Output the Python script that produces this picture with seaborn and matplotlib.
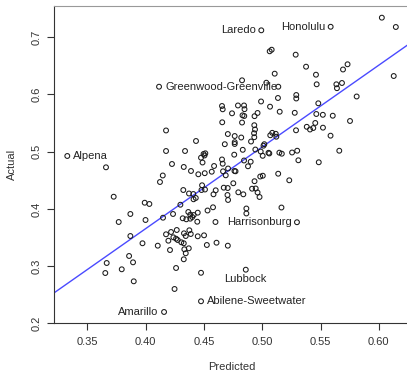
import matplotlib
matplotlib.use("Agg")
import matplotlib.pyplot as plt
import seaborn as sns
import numpy as np
import pandas as pd

predicted = [
    0.3328, 0.3660, 0.4115, 0.4175, 0.4175, 0.4338, 0.4432, 0.4226, 0.4327, 0.4389,
    0.4452, 0.4147, 0.4123, 0.4323, 0.4372, 0.4409, 0.4430, 0.3726, 0.3992, 0.4032,
    0.4298, 0.3869, 0.3769, 0.3999, 0.4149, 0.4235, 0.4366, 0.4383, 0.4412, 0.4447,
    0.4318, 0.4349, 0.4383, 0.4400, 0.4443, 0.4267, 0.4175, 0.4218, 0.4238, 0.4195,
    0.4261, 0.4275, 0.4306, 0.4329, 0.4375, 0.4387, 0.4344, 0.4327, 0.4447, 0.3869,
    0.3973, 0.4104, 0.4209, 0.4332, 0.4370, 0.4344, 0.3858, 0.3892, 0.3666, 0.3654,
    0.3795, 0.3898, 0.4261, 0.4248, 0.4327, 0.4158,
    0.4992, 0.5587, 0.6026, 0.6146, 0.6128, 0.5064, 0.5081, 0.5287, 0.5376, 0.5461,
    0.5693, 0.5732, 0.5107, 0.4827, 0.5035, 0.5138, 0.5467, 0.5636, 0.5684, 0.5641,
    0.5135, 0.5292, 0.5292, 0.4990, 0.5810, 0.4655, 0.4661, 0.4792, 0.4844, 0.4848,
    0.5067, 0.5150, 0.5481, 0.4741, 0.4831, 0.4846, 0.4960, 0.4934, 0.5279, 0.5464,
    0.5520, 0.5605, 0.4657, 0.4827, 0.4932, 0.4938, 0.5753, 0.5382, 0.5410, 0.5438,
    0.5455, 0.5521, 0.5290, 0.4705, 0.4679, 0.4764, 0.4820, 0.4930, 0.4932, 0.5086,
    0.5116, 0.5121, 0.5069, 0.5586, 0.4764, 0.4764, 0.4904, 0.5018, 0.5011, 0.4833,
    0.4941, 0.4987, 0.5004, 0.5061, 0.5054, 0.5147, 0.5168, 0.5256, 0.5300, 0.5661,
    0.4497, 0.4512, 0.4505, 0.4475, 0.4488, 0.4760, 0.5310, 0.5485, 0.4844, 0.4901,
    0.4878, 0.4655, 0.4661, 0.4587, 0.4707, 0.4664, 0.4762, 0.4771, 0.4687, 0.4507,
    0.4567, 0.5137, 0.5232, 0.5005, 0.4983, 0.4934, 0.4752, 0.4484, 0.4601, 0.4670,
    0.4704, 0.4913, 0.4944, 0.4479, 0.4509, 0.4582, 0.4702, 0.4707, 0.4795, 0.4838,
    0.4960, 0.4977, 0.4531, 0.4578, 0.4599, 0.4501, 0.4525, 0.4608, 0.4705, 0.4864,
    0.4864, 0.5165, 0.5298, 0.4859, 0.4475, 0.4475, 0.4411,
]
actual = [
    0.4925, 0.4727, 0.6136, 0.5371, 0.5012, 0.5012, 0.5187, 0.4785, 0.4733, 0.4663,
    0.4605, 0.4584, 0.4470, 0.4330, 0.4269, 0.4260, 0.4191, 0.4213, 0.4108, 0.4086,
    0.4073, 0.3911, 0.3771, 0.3806, 0.3846, 0.3911, 0.3946, 0.3899, 0.3893, 0.3934,
    0.3836, 0.3818, 0.3829, 0.3858, 0.3776, 0.3631, 0.3556, 0.3596, 0.3503, 0.3444,
    0.3479, 0.3456, 0.3416, 0.3573, 0.3626, 0.3561, 0.3526, 0.3399, 0.3521, 0.3526,
    0.3399, 0.3357, 0.3281, 0.3294, 0.3311, 0.3224, 0.3177, 0.3066, 0.3054, 0.2879,
    0.2944, 0.2734, 0.2967, 0.2600, 0.3119, 0.2198,
    0.7122, 0.7184, 0.7343, 0.7180, 0.6323, 0.6755, 0.6783, 0.6696, 0.6486, 0.6346,
    0.6437, 0.6528, 0.6364, 0.6248, 0.6206, 0.6136, 0.6178, 0.6178, 0.6201, 0.6110,
    0.5939, 0.5991, 0.5930, 0.5878, 0.5965, 0.5799, 0.5741, 0.5808, 0.5808, 0.5743,
    0.5787, 0.5699, 0.5846, 0.5671, 0.5636, 0.5624, 0.5677, 0.5621, 0.5680, 0.5659,
    0.5645, 0.5629, 0.5514, 0.5510, 0.5463, 0.5388, 0.5537, 0.5435, 0.5388, 0.5414,
    0.5502, 0.5420, 0.5374, 0.5309, 0.5131, 0.5274, 0.5248, 0.5323, 0.5253, 0.5330,
    0.5313, 0.5262, 0.5287, 0.5280, 0.5166, 0.5135, 0.5178, 0.5131, 0.5105, 0.5033,
    0.5038, 0.5003, 0.4928, 0.4969, 0.4981, 0.4983, 0.4965, 0.4986, 0.5017, 0.5017,
    0.4960, 0.4972, 0.4934, 0.4895, 0.4811, 0.4948, 0.4850, 0.4815, 0.4846, 0.4825,
    0.4745, 0.4864, 0.4790, 0.4750, 0.4706, 0.4657, 0.4663, 0.4657, 0.4587, 0.4624,
    0.4650, 0.4615, 0.4500, 0.4580, 0.4566, 0.4484, 0.4448, 0.4413, 0.4325, 0.4371,
    0.4365, 0.4353, 0.4357, 0.4330, 0.4339, 0.4255, 0.4243, 0.4156, 0.4290, 0.4255,
    0.4287, 0.4208, 0.3972, 0.4028, 0.3771, 0.3538, 0.3369, 0.3409, 0.3357, 0.4007,
    0.3920, 0.4024, 0.3767, 0.2937, 0.2883, 0.2385, 0.4168,
]

label_names = ["Alpena", "Greenwood-Greenville", "Amarillo", "Laredo", "Honolulu",
               "Harrisonburg", "Lubbock", "Abilene-Sweetwater"]
label_pred = [0.3328, 0.4115, 0.4158, 0.4992, 0.5587, 0.5298, 0.4859, 0.4475]
label_act = [0.4925, 0.6136, 0.2198, 0.7122, 0.7184, 0.3767, 0.2937, 0.2385]
label_side = ["right", "right", "left", "left", "left", "left", "below", "right"]

x_ticks = [0.35, 0.40, 0.45, 0.50, 0.55, 0.60]
y_ticks = [0.2, 0.3, 0.4, 0.5, 0.6, 0.7]

df = pd.DataFrame({"Predicted": predicted, "Actual": actual})

sns.set_style("ticks")
plt.rcParams["font.family"] = ["Liberation Sans", "DejaVu Sans"]

W, H = 407, 371
fig = plt.figure(figsize=(W / 100, H / 100), dpi=100)
left_px, right_px, top_px, bottom_px = 54, 409, 6, 323.3
ax = fig.add_axes([left_px / W, (H - bottom_px) / H,
                   (right_px - left_px) / W, (bottom_px - top_px) / H])

xlim = (0.3214, 0.6259)
ylim = (0.2, 0.7547)

# least-squares fit of Actual on Predicted
slope, intercept = np.polyfit(df["Predicted"], df["Actual"], 1)
fit_df = pd.DataFrame({"Predicted": list(xlim)})
fit_df["Actual"] = intercept + slope * fit_df["Predicted"]
sns.lineplot(data=fit_df, x="Predicted", y="Actual", ax=ax,
             color="#4a4aff", lw=1.0, zorder=2)

sns.scatterplot(data=df, x="Predicted", y="Actual", ax=ax, marker="o",
                s=12, facecolor="none", edgecolor="#1a1a1a", linewidth=0.75,
                zorder=3)

ax.set_xlim(*xlim)
ax.set_ylim(*ylim)
ax.set_xticks(x_ticks)
ax.set_xticklabels([f"{v:.2f}" for v in x_ticks])
ax.set_yticks(y_ticks)
ax.set_yticklabels([f"{v:.1f}" for v in y_ticks], rotation=90, va="center")

ax.tick_params(axis="both", direction="out", length=5, width=0.8,
               color="#333333", labelcolor="#333333", labelsize=8)
ax.tick_params(axis="x", pad=5)
ax.tick_params(axis="y", pad=4)

for side in ["left", "bottom", "top", "right"]:
    ax.spines[side].set_visible(True)
    ax.spines[side].set_linewidth(0.8)
ax.spines["left"].set_color("#333333")
ax.spines["bottom"].set_color("#333333")
ax.spines["top"].set_color("#999999")
ax.spines["right"].set_color("#999999")

ax.set_xlabel("Predicted", fontsize=8, color="#333333", va="center")
ax.set_ylabel("Actual", fontsize=8, color="#333333", va="center")
ax.xaxis.set_label_coords(0.5, -(366.7 - bottom_px) / (bottom_px - top_px))
ax.yaxis.set_label_coords(-(left_px - 12) / (right_px - left_px), 0.5)

for name, px, py, side in zip(label_names, label_pred, label_act, label_side):
    if side == "right":
        off, ha, va = (4.3, 0), "left", "center"
    elif side == "left":
        off, ha, va = (-4.0, 0), "right", "center"
    else:
        off, ha, va = (0, -6.8), "center", "center"
    ax.annotate(name, (px, py), xytext=off, textcoords="offset points",
                ha=ha, va=va, fontsize=8, color="#222222")

fig.savefig("out.png", dpi=100)
